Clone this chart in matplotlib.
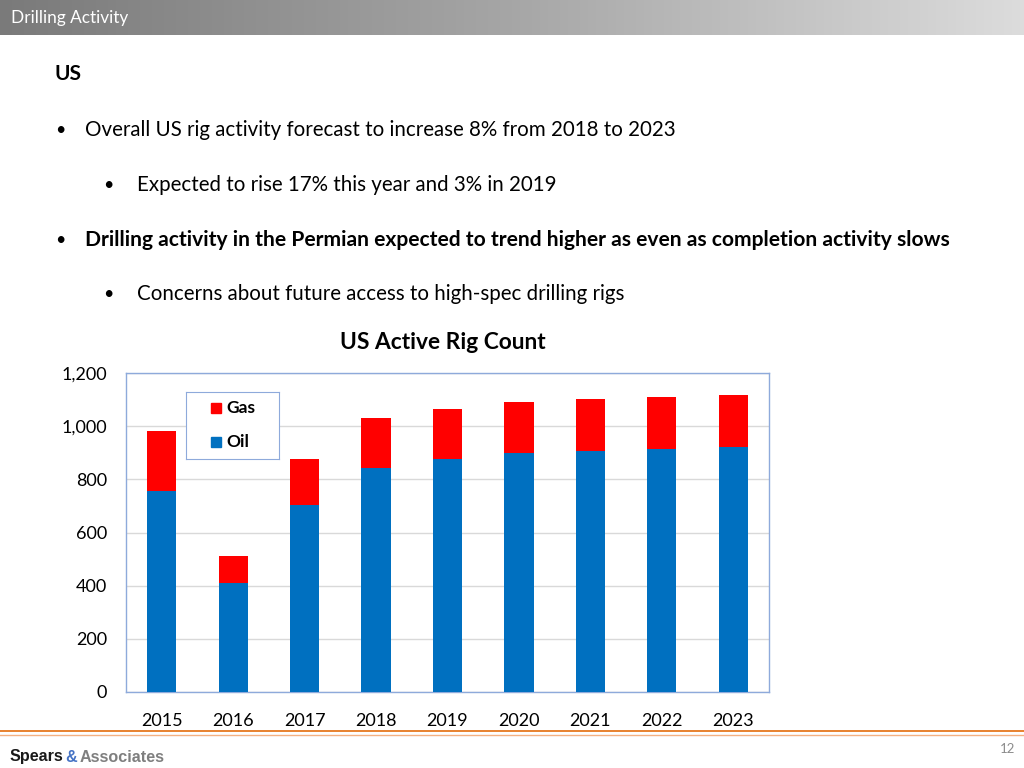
import numpy as np  # For numerical computations
import matplotlib.pyplot as plt  # For plotting
from matplotlib.colors import LinearSegmentedColormap  # For header gradient
from matplotlib.patches import Rectangle  # For legend markers

# Chart data
years = ["2015", "2016", "2017", "2018", "2019", "2020", "2021", "2022", "2023"]
oil = [756, 410, 704, 843, 877, 899, 907, 914, 922]
gas = [226, 102, 173, 188, 188, 192, 195, 196, 195]
y_ticks = [0, 200, 400, 600, 800, 1000, 1200]

# Slide text
header_text = "Drilling Activity"
section_title = "US"
bullets = [
    (1, "Overall US rig activity forecast to increase 8% from 2018 to 2023", False),
    (2, "Expected to rise 17% this year and 3% in 2019", False),
    (1, "Drilling activity in the Permian expected to trend higher as even as completion activity slows", True),
    (2, "Concerns about future access to high-spec drilling rigs", False),
]
chart_title = "US Active Rig Count"

FONT = "Lato"
W, H = 1024, 768


def fx(px):  # pixel x to figure fraction
    return px / W


def fy(py):  # pixel y (from top) to figure fraction
    return 1 - py / H


fig = plt.figure(figsize=(10.24, 7.68), dpi=100)
fig.patch.set_facecolor("white")

# Header gradient bar
hdr = fig.add_axes([0, fy(35), 1, 35 / H])
cmap = LinearSegmentedColormap.from_list("hdr", ["#7a7a7a", "#a6a6a6", "#dcdcdc"])
hdr.imshow(np.linspace(0, 1, 256).reshape(1, -1), aspect="auto", cmap=cmap, extent=[0, 1, 0, 1])
hdr.set_axis_off()
fig.text(fx(11), fy(18), header_text, color="white", fontsize=12.4, family=FONT, va="center")

# Section title and bullets
fig.text(fx(55), fy(74), section_title, fontsize=15, weight="bold", family=FONT, va="center")
bullet_y = [130, 185, 240, 294]
for (level, text, bold), yy in zip(bullets, bullet_y):
    bx = 55 if level == 1 else 103
    tx = 85 if level == 1 else 137
    fig.text(fx(bx), fy(yy), "\u2022", fontsize=13, family=FONT, va="center")
    fig.text(fx(tx), fy(yy), text, fontsize=14.8 if not bold else 15.1, family=FONT,
             va="center", weight="bold" if bold else "normal")

# Chart title
fig.text(fx(443), fy(343), chart_title, fontsize=16.4, weight="bold", family=FONT,
         ha="center", va="center")

# Bar chart
ax = fig.add_axes([fx(126), fy(692), 643 / W, 319 / H])
x = np.arange(len(years))
ax.bar(x, oil, width=0.41, color="#0070c0", zorder=3)
ax.bar(x, gas, width=0.41, bottom=oil, color="#ff0000", zorder=3)
ax.set_xlim(-0.5, len(years) - 0.5)
ax.set_ylim(0, 1200)
ax.set_yticks(y_ticks)
ax.set_yticklabels([f"{v:,}" for v in y_ticks], fontsize=13, family=FONT)
ax.set_xticks(x)
ax.set_xticklabels(years, fontsize=13, family=FONT)
ax.tick_params(axis="both", length=0)
ax.tick_params(axis="y", pad=13.5)
ax.tick_params(axis="x", pad=15)
ax.grid(axis="y", color="#d9d9d9", linewidth=1, zorder=0)
for side in ax.spines.values():
    side.set_color("#8eaadb")
    side.set_linewidth(1)

# Legend box
leg = fig.add_axes([fx(186), fy(459), 93 / W, 67 / H])
leg.set_xlim(0, 93)
leg.set_ylim(67, 0)
leg.set_xticks([])
leg.set_yticks([])
for side in leg.spines.values():
    side.set_color("#8eaadb")
leg.add_patch(Rectangle((25, 11), 10, 10, color="#ff0000"))
leg.text(40, 16, "Gas", fontsize=12.5, weight="bold", family=FONT, va="center")
leg.add_patch(Rectangle((25, 45), 10, 10, color="#0070c0"))
leg.text(40, 50, "Oil", fontsize=12.5, weight="bold", family=FONT, va="center")

# Footer lines
fig.add_artist(plt.Line2D([0, 1], [fy(731), fy(731)], color="#e46c0a", linewidth=1.2))
fig.add_artist(plt.Line2D([0, 1], [fy(735), fy(735)], color="#f4b183", linewidth=1))

# Footer logo text
logo_font = "Liberation Sans"
t1 = fig.text(fx(10), fy(757), "Spears", fontsize=11.6, weight="bold", family=logo_font,
              va="center", color="#1a1a1a")
fig.canvas.draw()
renderer = fig.canvas.get_renderer()
bb = t1.get_window_extent(renderer=renderer)
t2 = fig.text((bb.x1 + 2) / W, fy(757), "&", fontsize=11.6, weight="bold",
              family=logo_font, va="center", color="#4472c4")
bb2 = t2.get_window_extent(renderer=renderer)
fig.text((bb2.x1 + 2) / W, fy(757), "Associates", fontsize=11.6, weight="bold",
         family=logo_font, va="center", color="#7f7f7f")

fig.text(fx(1015), fy(749), "12", fontsize=9.5, family=FONT, color="#8c8c8c", ha="right", va="center")

fig.savefig("out.png", dpi=100)
